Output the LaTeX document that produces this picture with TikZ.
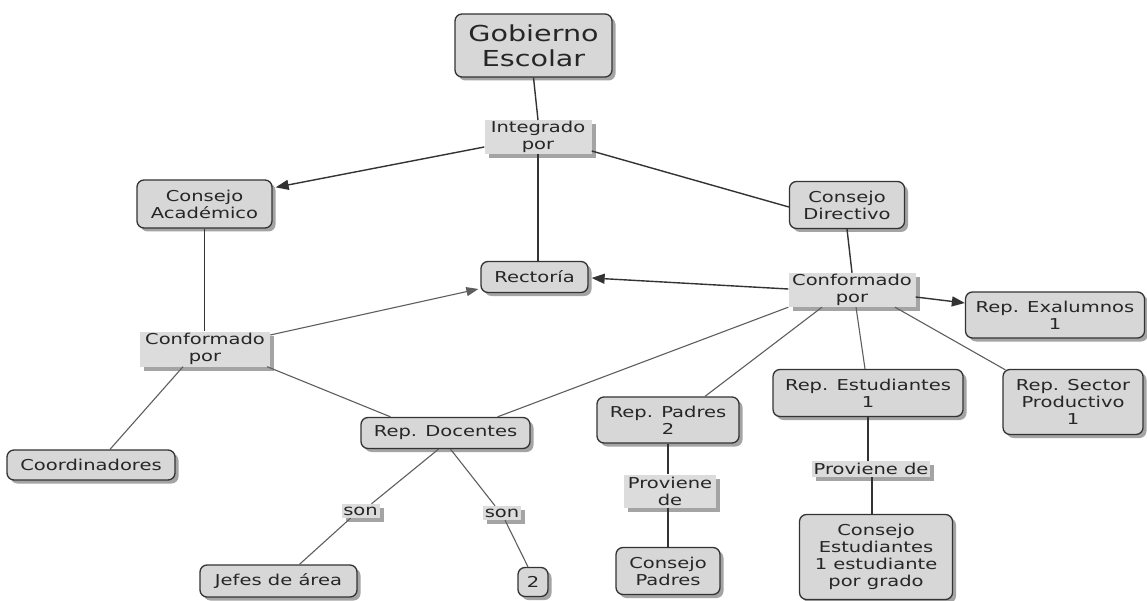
\documentclass[tikz,border=0pt]{standalone}
\usepackage{fontspec}
\setmainfont{DejaVu Sans}[FakeStretch=1.3]
\usetikzlibrary{shadows,arrows.meta}
\definecolor{boxfill}{HTML}{D7D7D7}
\definecolor{lblfill}{HTML}{DCDCDC}
\definecolor{edge}{HTML}{333333}
\definecolor{lightedge}{HTML}{5E5E5E}
\definecolor{shadowc}{HTML}{A4A4A4}
\tikzset{
  concept/.style={draw=edge, line width=1.3pt, rounded corners=7pt, fill=boxfill,
    align=center, text=black!85, inner sep=2pt,
    font=\fontsize{15}{17}\selectfont,
    drop shadow={shadow xshift=3.5pt, shadow yshift=-3.5pt, fill=shadowc, opacity=1}},
  linkbox/.style={fill=lblfill, align=center, text=black!85, inner sep=1pt,
    font=\fontsize{15}{17}\selectfont,
    drop shadow={shadow xshift=4pt, shadow yshift=-4pt, fill=shadowc, opacity=1}},
  conn/.style={draw=edge, line width=1.4pt},
  lconn/.style={draw=lightedge, line width=1.1pt},
  arr/.style={-{Triangle[length=13pt,width=10pt]}},
  larr/.style={-{Triangle[length=12pt,width=9pt]}},
}
\begin{document}
\begin{tikzpicture}[x=1pt,y=-1pt]
\useasboundingbox[fill=white] (0,0) rectangle (1147,601);

% concept nodes
\node[concept, minimum width=157, minimum height=63, font=\fontsize{22}{25}\selectfont] (gob) at (533.5,45.5) {Gobierno\\Escolar};
\node[concept, minimum width=135, minimum height=48] (cacad) at (204.5,204) {Consejo\\Académico};
\node[concept, minimum width=115, minimum height=47] (cdir) at (847,205) {Consejo\\Directivo};
\node[concept, minimum width=107, minimum height=31] (rect) at (534.5,277) {Rectoría};
\node[concept, minimum width=179, minimum height=46] (exal) at (1055,315) {Rep. Exalumnos\\1};
\node[concept, minimum width=190, minimum height=47] (rest) at (868,393) {Rep. Estudiantes\\1};
\node[concept, minimum width=140, minimum height=65] (rsec) at (1073,402) {Rep. Sector\\Productivo\\1};
\node[concept, minimum width=142, minimum height=46] (rpad) at (668,420) {Rep. Padres\\2};
\node[concept, minimum width=168, minimum height=30] (coord) at (91,465) {Coordinadores};
\node[concept, minimum width=169, minimum height=31] (rdoc) at (445.5,433) {Rep. Docentes};
\node[concept, minimum width=157, minimum height=32] (jefes) at (278.5,581) {Jefes de área};
\node[concept, minimum width=30, minimum height=29] (dos) at (533,582) {2};
\node[concept, minimum width=104, minimum height=47] (cpad) at (668,571) {Consejo\\Padres};
\node[concept, minimum width=153, minimum height=85] (cest) at (876,557) {Consejo\\Estudiantes\\1 estudiante\\por grado};

% linking phrases
\node[linkbox, minimum width=107, minimum height=33] (integ) at (538,137) {Integrado\\por};
\node[linkbox, minimum width=127, minimum height=34] (cr) at (852,290) {Conformado\\por};
\node[linkbox, minimum width=130, minimum height=35] (cl) at (205,349) {Conformado\\por};
\node[linkbox, minimum width=92, minimum height=33] (provl) at (670,491) {Proviene\\de};
\node[linkbox, minimum width=118, minimum height=16] (provr) at (871,469) {Proviene de};
\node[linkbox, minimum width=38, minimum height=14] (sonl) at (360.5,511) {son};
\node[linkbox, minimum width=38, minimum height=14] (sonr) at (502,513) {son};

% connectors
\draw[conn] (gob.south) -- (integ.north);
\draw[conn,arr] ([yshift=-10pt]integ.west) -- ([xshift=3pt,yshift=-8pt]cacad.north east);
\draw[conn] ([yshift=-14pt]integ.east) -- ([yshift=-2pt]cdir.west);
\draw[conn] (integ.south) -- (integ.south |- rect.north);
\draw[conn] (cacad.south) -- (cacad.south |- cl.north);
\draw[lconn,larr] ([yshift=14pt]cl.east) -- ([xshift=-2pt,yshift=-12pt]rect.west);
\draw[lconn] ([xshift=-22pt]cl.south) -- ([xshift=19pt]coord.north);
\draw[lconn] ([xshift=-3pt]cl.south east) -- ([xshift=-55pt]rdoc.north);
\draw[conn] (cdir.south) -- (cr.north);
\draw[conn,arr] ([yshift=1pt]cr.west) -- ([xshift=3pt,yshift=-1pt]rect.east);
\draw[conn,arr] ([yshift=-7pt]cr.east) -- ([yshift=12pt]exal.west);
\draw[lconn] (cr.south west) -- ([xshift=52pt]rdoc.north);
\draw[lconn] ([xshift=-30pt]cr.south) -- ([xshift=37pt]rpad.north);
\draw[lconn] ([xshift=4pt]cr.south) -- ([xshift=-3pt]rest.north);
\draw[lconn] ([xshift=43pt]cr.south) -- ([xshift=3pt,yshift=-1pt]rsec.north west);
\draw[lconn] ([xshift=-7pt]rdoc.south) -- ([xshift=11pt]sonl.north);
\draw[lconn] ([xshift=-10pt]sonl.south) -- ([xshift=21pt]jefes.north);
\draw[lconn] ([xshift=5pt]rdoc.south) -- ([xshift=-7pt]sonr.north);
\draw[lconn] ([xshift=3pt]sonr.south) -- ([xshift=-5pt]dos.north);
\draw[conn] (rpad.south) -- (rpad.south |- provl.north);
\draw[conn] (provl.south -| cpad.north) -- (cpad.north);
\draw[conn] (rest.south) -- (rest.south |- provr.north);
\draw[conn] ([xshift=1pt]provr.south) -- ([xshift=1pt]provr.south |- cest.north);
\end{tikzpicture}
\end{document}
